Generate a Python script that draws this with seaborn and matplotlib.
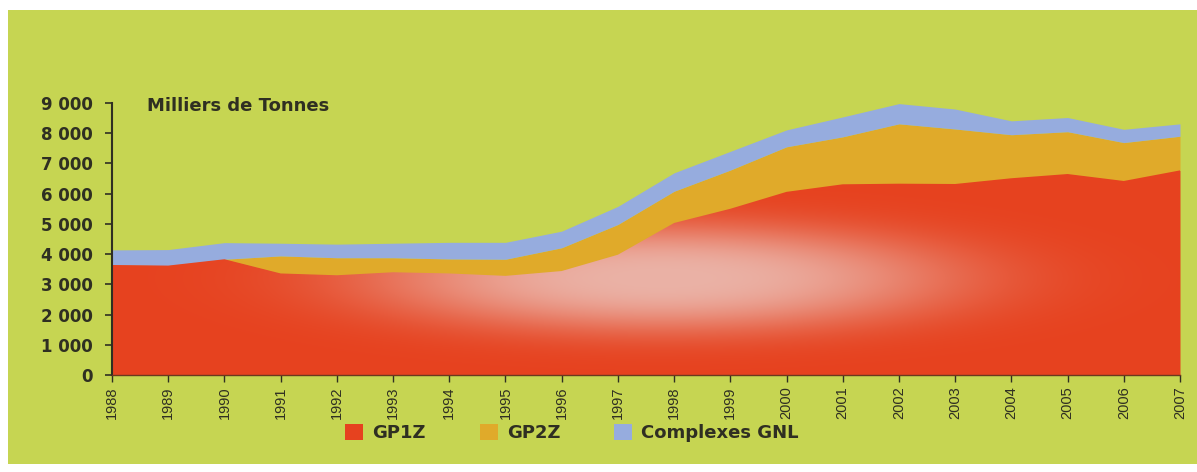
import numpy as np
import pandas as pd
import matplotlib
matplotlib.use("Agg")
import matplotlib.pyplot as plt
from matplotlib.patches import Patch, Rectangle
import seaborn as sns

# Production de GPL par complexe (milliers de tonnes)
years = list(range(1988, 2008))
gp1z = [3640, 3620, 3830, 3360, 3300, 3400, 3360, 3280, 3440, 3980,
        5030, 5500, 6060, 6310, 6330, 6320, 6510, 6650, 6420, 6770]
gp2z = [0, 0, 0, 580, 580, 480, 480, 550, 770, 1000,
        1050, 1280, 1490, 1570, 1980, 1820, 1440, 1400, 1270, 1130]
gnl = [500, 530, 550, 420, 450, 480, 550, 560, 550, 600,
       610, 620, 560, 660, 670, 660, 460, 470, 440, 410]
series_names = ["GP1Z", "GP2Z", "Complexes GNL"]
y_ticks = [0, 1000, 2000, 3000, 4000, 5000, 6000, 7000, 8000, 9000]
y_title = "Milliers de Tonnes"

df = pd.DataFrame({"annee": years, "GP1Z": gp1z, "GP2Z": gp2z, "Complexes GNL": gnl})

sns.set_theme(style="white")
plt.rcParams["font.family"] = ["DejaVu Sans"]

BG = "#c6d552"
RED = "#e6421f"
PINK = "#ebb2a6"
ORANGE = "#e0aa2a"
BLUE = "#96acde"
INK = "#2f2f22"

W, H = 1197, 472
fig = plt.figure(figsize=(W / 100, H / 100), dpi=100)
fig.patch.set_facecolor("white")
fig.add_artist(Rectangle((8 / W, 8 / H), 1 - 8 / W, 1 - 18 / H,
                         transform=fig.transFigure, facecolor=BG,
                         edgecolor="none", zorder=0))

ax = fig.add_axes([112 / W, 1 - 375 / H, 1068 / W, 272 / H])
ax.set_facecolor("none")

polys = ax.stackplot(df["annee"], df["GP1Z"], df["GP2Z"], df["Complexes GNL"],
                     colors=[RED, ORANGE, BLUE], linewidth=0, zorder=2)
for p in polys:
    p.set_clip_on(False)

# soft light highlight inside the GP1Z area
gx = np.linspace(1988, 2007, 500)
gy = np.linspace(0, 9000, 300)
GX, GY = np.meshgrid(gx, gy)
w = np.exp(-(((GX - 1997.8) / 5.2) ** 2 + ((GY - 3200) / 1750) ** 2) ** 1.4)
red_rgb = np.array(matplotlib.colors.to_rgb(RED))
pink_rgb = np.array(matplotlib.colors.to_rgb(PINK))
img = red_rgb[None, None, :] * (1 - w[..., None]) + pink_rgb[None, None, :] * w[..., None]
im = ax.imshow(img, extent=[1988, 2007, 0, 9000], origin="lower",
               aspect="auto", zorder=2.5, interpolation="bilinear")
im.set_clip_path(polys[0].get_paths()[0], transform=ax.transData)

ax.set_xlim(1988, 2007)
ax.set_ylim(0, 9000)

ax.set_yticks(y_ticks)
ax.set_yticklabels([f"{v:,}".replace(",", " ") for v in y_ticks],
                   fontsize=12, fontweight="bold", color=INK)
ax.set_xticks(years)
ax.set_xticklabels([str(y) for y in years], rotation=90,
                   fontsize=10.5, family=["Liberation Sans"], color=INK)
ax.tick_params(axis="y", direction="out", length=5, width=1.2, color=INK,
               pad=9, left=True)
ax.tick_params(axis="x", direction="out", length=5, width=1.0, color=INK,
               pad=3, bottom=True)

sns.despine(ax=ax, top=True, right=True)
ax.spines["left"].set_color(INK)
ax.spines["left"].set_linewidth(1.5)
ax.spines["bottom"].set_color("#6a3a1e")
ax.spines["bottom"].set_linewidth(1.0)
ax.spines["left"].set_zorder(4)
ax.spines["bottom"].set_zorder(4)
ax.grid(False)

fig.text(147 / W, 1 - 106 / H, y_title, fontsize=13, fontweight="bold",
         color=INK, va="center", ha="left")

handles = [Patch(facecolor=c, edgecolor="none") for c in (RED, ORANGE, BLUE)]
fig.legend(handles, series_names, loc="center",
           bbox_to_anchor=(572 / W, 1 - 433 / H), ncol=3, frameon=False,
           handlelength=1.0, handleheight=1.0, handletextpad=0.5,
           columnspacing=3.0,
           prop={"weight": "bold", "size": 13})
for t in fig.legends[0].get_texts():
    t.set_color(INK)

fig.savefig("out.png", dpi=100, facecolor=fig.get_facecolor())
